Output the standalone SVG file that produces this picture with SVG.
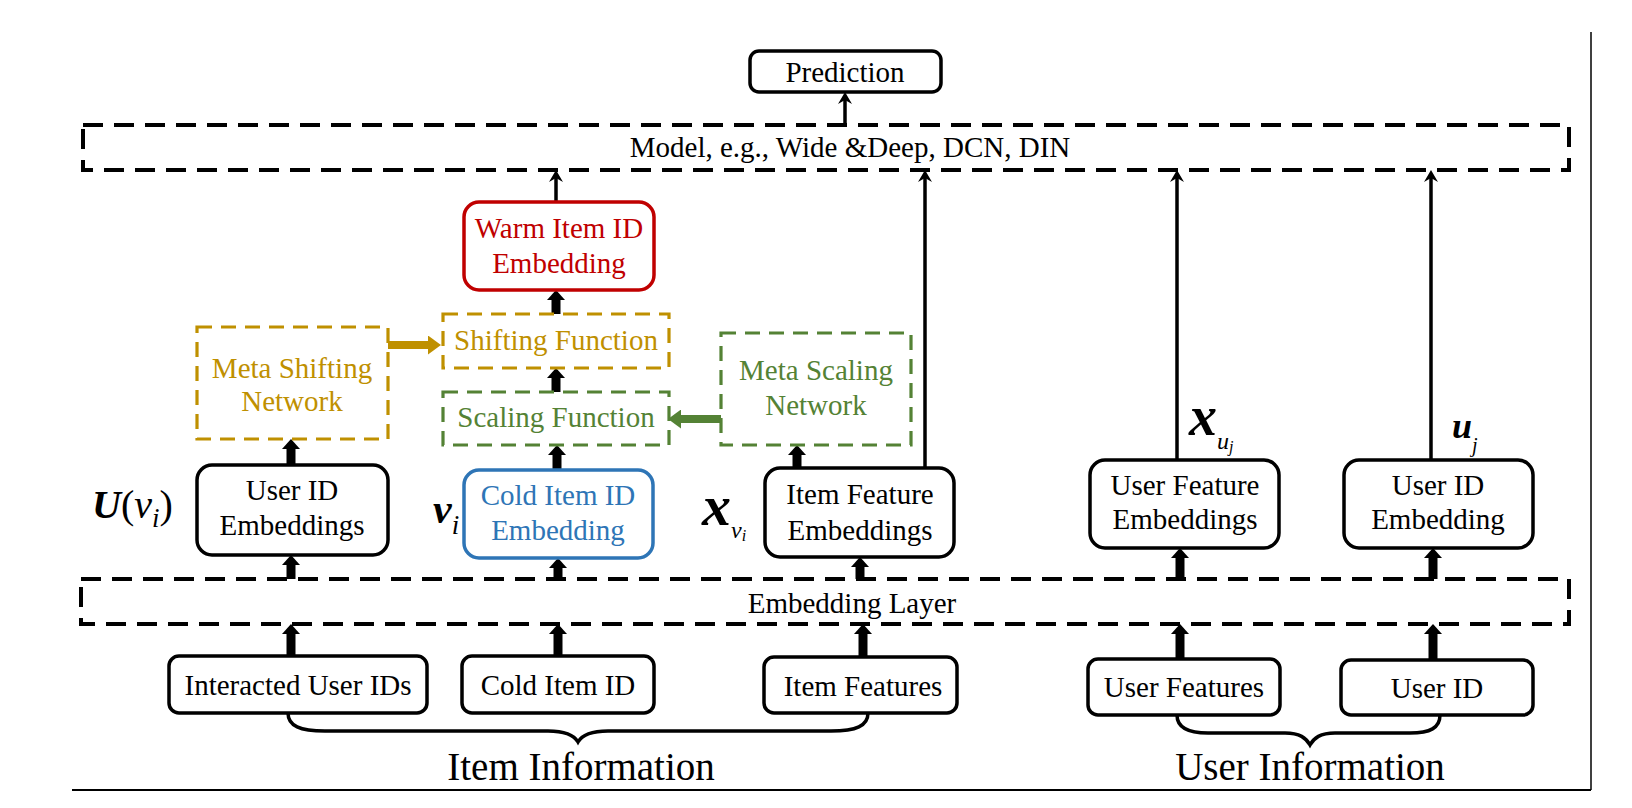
<svg xmlns="http://www.w3.org/2000/svg" width="1632" height="808" viewBox="0 0 1632 808" font-family="'Liberation Serif', 'Times New Roman', Times, Tinos, 'Nimbus Roman', 'Nimbus Roman No9 L', 'TeX Gyre Termes', FreeSerif, 'Noto Serif', 'DejaVu Serif', 'Noto Serif CJK SC', 'Noto Serif CJK JP', serif">
<defs>
<style>
text{font-family:'Liberation Serif','Times New Roman',Times,Tinos,'Nimbus Roman','Nimbus Roman No9 L','TeX Gyre Termes',FreeSerif,'Noto Serif','DejaVu Serif','Noto Serif CJK SC','Noto Serif CJK JP',serif;fill:#000}
.t{font-size:29px;text-anchor:middle}
.big{font-size:39px;text-anchor:middle}
.box{fill:#fff;stroke:#000;stroke-width:3.5}
.dash{fill:none;stroke:#000;stroke-width:4;stroke-dasharray:20 11}
.gold{fill:none;stroke:#BF9000;stroke-width:3.2;stroke-dasharray:15 9}
.green{fill:none;stroke:#548235;stroke-width:3.2;stroke-dasharray:15 9}
.tg{fill:#BF9000}
.tgr{fill:#548235}
.tr{fill:#C00000}
.tb{fill:#2E75B6}
.thick{stroke:#000;stroke-width:9;fill:none}
.thin{stroke:#000;stroke-width:3.5;fill:none}
.brace{stroke:#000;stroke-width:3.5;fill:none}
.bi{font-weight:bold;font-style:italic}
.it{font-style:italic}
</style>
<marker id="hk" viewBox="0 0 10 18" refX="0" refY="9" markerWidth="10" markerHeight="18" markerUnits="userSpaceOnUse" orient="auto">
<path d="M0,0 L10,9 L0,18 Z" fill="#000"/>
</marker>
<marker id="hgold" viewBox="0 0 13 19" refX="0" refY="9.5" markerWidth="13" markerHeight="19" markerUnits="userSpaceOnUse" orient="auto">
<path d="M0,0 L13,9.5 L0,19 Z" fill="#BF9000"/>
</marker>
<marker id="hgreen" viewBox="0 0 13 19" refX="0" refY="9.5" markerWidth="13" markerHeight="19" markerUnits="userSpaceOnUse" orient="auto">
<path d="M0,0 L13,9.5 L0,19 Z" fill="#548235"/>
</marker>
<marker id="ht" viewBox="0 0 12 14" refX="4" refY="7" markerWidth="12" markerHeight="14" markerUnits="userSpaceOnUse" orient="auto">
<path d="M0,0 L12,7 L0,14 L4,7 Z" fill="#000"/>
</marker>
</defs>
<rect width="1632" height="808" fill="#fff"/>

<line x1="1591" y1="32" x2="1591" y2="790" stroke="#000" stroke-width="1.5"/>
<line x1="72" y1="790" x2="1591" y2="790" stroke="#000" stroke-width="2"/>

<g id="connectors">
<line class="thin" x1="845" y1="124" x2="845" y2="100" marker-end="url(#ht)"/>
<line class="thin" x1="556" y1="202" x2="556" y2="178" marker-end="url(#ht)"/>
<line class="thin" x1="925" y1="468" x2="925" y2="178" marker-end="url(#ht)"/>
<line class="thin" x1="1177" y1="460" x2="1177" y2="178" marker-end="url(#ht)"/>
<line class="thin" x1="1431" y1="460" x2="1431" y2="178" marker-end="url(#ht)"/>
<line class="thick" x1="556" y1="314" x2="556" y2="300" marker-end="url(#hk)"/>
<line class="thick" x1="556" y1="392" x2="556" y2="378" marker-end="url(#hk)"/>
<line class="thick" x1="557" y1="470" x2="557" y2="455" marker-end="url(#hk)"/>
<line class="thick" x1="291" y1="465" x2="291" y2="449" marker-end="url(#hk)"/>
<line class="thick" x1="797" y1="468" x2="797" y2="455" marker-end="url(#hk)"/>
<line class="thick" x1="291" y1="579" x2="291" y2="565" marker-end="url(#hk)"/>
<line class="thick" x1="558" y1="579" x2="558" y2="568" marker-end="url(#hk)"/>
<line class="thick" x1="860" y1="579" x2="860" y2="567" marker-end="url(#hk)"/>
<line class="thick" x1="1180" y1="579" x2="1180" y2="558" marker-end="url(#hk)"/>
<line class="thick" x1="1433" y1="579" x2="1433" y2="558" marker-end="url(#hk)"/>
<line class="thick" x1="291" y1="656" x2="291" y2="634" marker-end="url(#hk)"/>
<line class="thick" x1="558" y1="656" x2="558" y2="634" marker-end="url(#hk)"/>
<line class="thick" x1="863" y1="657" x2="863" y2="634" marker-end="url(#hk)"/>
<line class="thick" x1="1180" y1="659" x2="1180" y2="634" marker-end="url(#hk)"/>
<line class="thick" x1="1433" y1="660" x2="1433" y2="634" marker-end="url(#hk)"/>
<line x1="388" y1="345" x2="428" y2="345" stroke="#BF9000" stroke-width="8" marker-end="url(#hgold)"/>
<line x1="721" y1="419" x2="681" y2="419" stroke="#548235" stroke-width="8" marker-end="url(#hgreen)"/>
<path class="brace" d="M288,713 C288,726 300,731 325,731 L548,731 C566,731 574,735 578,742 C582,735 590,731 608,731 L831,731 C856,731 868,726 868,713"/>
<path class="brace" d="M1177,715 C1177,728 1188,733 1208,733 L1285,733 C1300,733 1306,738 1310,745 C1314,738 1320,733 1335,733 L1410,733 C1430,733 1440,728 1440,715"/>
</g>

<g id="model">
<rect class="dash" x="83" y="125" width="1486" height="45"/>
<text class="t" x="850" y="157">Model, e.g., Wide &amp;Deep, DCN, DIN</text>
</g>
<g id="embedding-layer">
<rect class="dash" x="81" y="579" width="1488" height="45"/>
<text class="t" x="852" y="613">Embedding Layer</text>
</g>

<g id="prediction">
<rect class="box" x="750" y="51" width="191" height="41" rx="9"/>
<text class="t" x="845" y="82">Prediction</text>
</g>

<g id="warm-item-id-embedding">
<rect class="box" x="464" y="202" width="190" height="88" rx="15" style="stroke:#C00000"/>
<text class="t tr" x="559" y="238">Warm Item ID</text>
<text class="t tr" x="559" y="273">Embedding</text>
</g>

<g id="shifting-function">
<rect class="gold" x="443" y="314" width="226" height="54"/>
<text class="t tg" x="556" y="350">Shifting Function</text>
</g>

<g id="scaling-function">
<rect class="green" x="443" y="392" width="226" height="53"/>
<text class="t tgr" x="556" y="427">Scaling Function</text>
</g>

<g id="meta-shifting-network">
<rect class="gold" x="197" y="327" width="191" height="112"/>
<text class="t tg" x="292" y="378">Meta Shifting</text>
<text class="t tg" x="292" y="411">Network</text>
</g>

<g id="meta-scaling-network">
<rect class="green" x="721" y="333" width="190" height="112"/>
<text class="t tgr" x="816" y="380">Meta Scaling</text>
<text class="t tgr" x="816" y="415">Network</text>
</g>

<g id="user-id-embeddings">
<rect class="box" x="197" y="465" width="191" height="90" rx="15"/>
<text class="t" x="292" y="500">User ID</text>
<text class="t" x="292" y="535">Embeddings</text>
</g>

<g id="cold-item-id-embedding">
<rect class="box" x="464" y="470" width="189" height="88" rx="15" style="stroke:#2E75B6"/>
<text class="t tb" x="558" y="505">Cold Item ID</text>
<text class="t tb" x="558" y="540">Embedding</text>
</g>

<g id="item-feature-embeddings">
<rect class="box" x="765" y="468" width="189" height="89" rx="15"/>
<text class="t" x="860" y="504">Item Feature</text>
<text class="t" x="860" y="540">Embeddings</text>
</g>

<g id="user-feature-embeddings">
<rect class="box" x="1090" y="460" width="189" height="88" rx="15"/>
<text class="t" x="1185" y="495">User Feature</text>
<text class="t" x="1185" y="529">Embeddings</text>
</g>

<g id="user-id-embedding">
<rect class="box" x="1344" y="460" width="189" height="88" rx="15"/>
<text class="t" x="1438" y="495">User ID</text>
<text class="t" x="1438" y="529">Embedding</text>
</g>

<g id="interacted-user-ids">
<rect class="box" x="169" y="656" width="258" height="57" rx="10"/>
<text class="t" x="298" y="695">Interacted User IDs</text>
</g>
<g id="cold-item-id">
<rect class="box" x="462" y="656" width="192" height="57" rx="10"/>
<text class="t" x="558" y="695">Cold Item ID</text>
</g>
<g id="item-features">
<rect class="box" x="764" y="657" width="193" height="56" rx="10"/>
<text class="t" x="863" y="696">Item Features</text>
</g>
<g id="user-features">
<rect class="box" x="1088" y="659" width="192" height="56" rx="10"/>
<text class="t" x="1184" y="697">User Features</text>
</g>
<g id="user-id">
<rect class="box" x="1341" y="660" width="192" height="55" rx="10"/>
<text class="t" x="1437" y="698">User ID</text>
</g>

<g id="labels">
<text x="92" y="518" font-size="40"><tspan class="bi">U</tspan><tspan>(</tspan><tspan class="it">v</tspan><tspan class="it" font-size="27" dy="9">i</tspan><tspan dy="-9">)</tspan></text>
<text x="433" y="523" font-size="42"><tspan class="bi">v</tspan><tspan class="it" font-size="27" dy="11">i</tspan></text>
<text x="702" y="525" font-size="58"><tspan class="bi">x</tspan><tspan class="it" font-size="24" dy="13">v</tspan><tspan class="it" font-size="16" dy="3">i</tspan></text>
<text x="1189" y="435" font-size="56"><tspan class="bi">x</tspan><tspan class="it" font-size="24" dy="14">u</tspan><tspan class="it" font-size="16" dy="3">j</tspan></text>
<text x="1452" y="438" font-size="36"><tspan class="bi">u</tspan><tspan class="it" font-size="20" dy="14">j</tspan></text>
<text class="big" x="581" y="780">Item Information</text>
<text class="big" x="1310" y="780">User Information</text>
</g>
</svg>
